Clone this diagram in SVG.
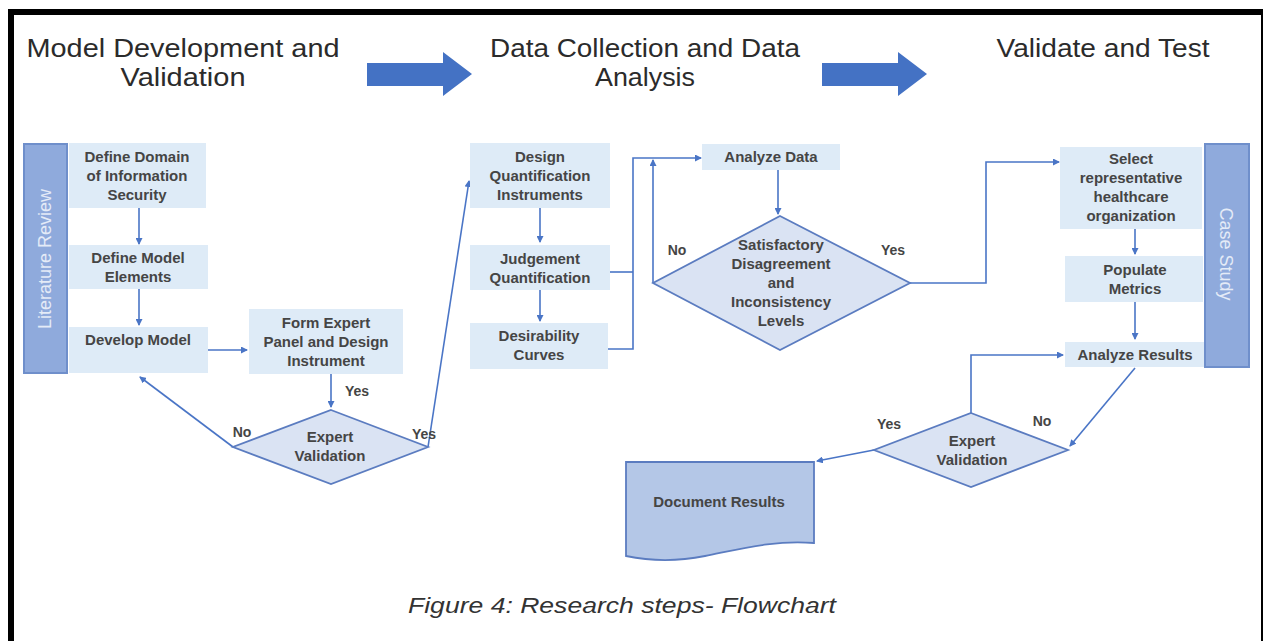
<svg xmlns="http://www.w3.org/2000/svg" width="1263" height="641" viewBox="0 0 1263 641">
<defs>
<style>
.hdr{font-family:"Liberation Sans",Arial,sans-serif;font-size:25px;fill:#2b2b2b;text-anchor:middle}
.t{font-family:"Liberation Sans",Arial,sans-serif;font-size:15px;font-weight:bold;fill:#454545;text-anchor:middle}
.lbl{font-family:"Liberation Sans",Arial,sans-serif;font-size:14px;font-weight:bold;fill:#454545;text-anchor:middle}
.bar{fill:#8FAADC;stroke:#6F8FCB;stroke-width:2}
.bart{font-family:"Liberation Sans",Arial,sans-serif;font-size:18px;fill:#E4EBF7;text-anchor:middle}
.box{fill:#DEEBF7}
.dia{fill:#DAE3F3;stroke:#5B7CC0;stroke-width:1.8}
.doc{fill:#B4C7E7;stroke:#5B7CC0;stroke-width:1.8}
.c{fill:none;stroke:#4A75C6;stroke-width:1.6}
.big{fill:#4472C4}
.cap{font-family:"Liberation Sans",Arial,sans-serif;font-size:22px;font-style:italic;fill:#333;text-anchor:middle}
</style>
<marker id="ah" markerUnits="userSpaceOnUse" markerWidth="7" markerHeight="7" refX="6" refY="3.5" orient="auto">
<path d="M0,0 L7,3.5 L0,7 z" fill="#4A75C6"/>
</marker>
</defs>
<rect width="1263" height="641" fill="#fff"/>
<!-- frame -->
<rect x="8" y="9" width="1255" height="6" fill="#000"/>
<rect x="8" y="9" width="6" height="632" fill="#000"/>
<rect x="1261" y="9" width="2" height="632" fill="#000"/>

<!-- headers -->
<g id="header1">
<text class="hdr" x="183" y="57" textLength="313" lengthAdjust="spacingAndGlyphs">Model Development and</text>
<text class="hdr" x="183" y="86" textLength="125" lengthAdjust="spacingAndGlyphs">Validation</text>
</g>
<g id="header2">
<text class="hdr" x="645" y="57" textLength="310" lengthAdjust="spacingAndGlyphs">Data Collection and Data</text>
<text class="hdr" x="645" y="86" textLength="100" lengthAdjust="spacingAndGlyphs">Analysis</text>
</g>
<g id="header3">
<text class="hdr" x="1103" y="57" textLength="213" lengthAdjust="spacingAndGlyphs">Validate and Test</text>
</g>
<g id="bigarrow1"><path class="big" d="M367,63 H443 V52 L472,74 L443,96 V86 H367 Z"/></g>
<g id="bigarrow2"><path class="big" d="M822,63 H898 V52 L927,74 L898,96 V86 H822 Z"/></g>

<!-- connectors -->
<g id="connectors">
<path class="c" d="M139,208 V244" marker-end="url(#ah)"/>
<path class="c" d="M139,288 V325" marker-end="url(#ah)"/>
<path class="c" d="M208,350 H247" marker-end="url(#ah)"/>
<path class="c" d="M331,374 V407" marker-end="url(#ah)"/>
<path class="c" d="M233,447 L140,377" marker-end="url(#ah)"/>
<path class="c" d="M428,447 L469,181" marker-end="url(#ah)"/>
<path class="c" d="M540,208 V242" marker-end="url(#ah)"/>
<path class="c" d="M540,290 V321" marker-end="url(#ah)"/>
<path class="c" d="M610,272 H633"/>
<path class="c" d="M608,349 H633 V158 H701" marker-end="url(#ah)"/>
<path class="c" d="M778,170 V214" marker-end="url(#ah)"/>
<path class="c" d="M653,283 V160" marker-end="url(#ah)"/>
<path class="c" d="M910,283 H986 V162 H1059" marker-end="url(#ah)"/>
<path class="c" d="M1135,229 V254" marker-end="url(#ah)"/>
<path class="c" d="M1135,302 V339" marker-end="url(#ah)"/>
<path class="c" d="M1135,368 L1070,446" marker-end="url(#ah)"/>
<path class="c" d="M971,413 V355 H1063" marker-end="url(#ah)"/>
<path class="c" d="M874,450 L817,461" marker-end="url(#ah)"/>
</g>

<!-- left column -->
<g id="literature-review">
<rect class="bar" x="24" y="144" width="43" height="229"/>
<text class="bart" transform="translate(51,259) rotate(-90)">Literature Review</text>
</g>
<g id="define-domain">
<rect class="box" x="69" y="143" width="137" height="65"/>
<text class="t" x="137" y="162">Define Domain</text>
<text class="t" x="137" y="181">of Information</text>
<text class="t" x="137" y="200">Security</text>
</g>
<g id="define-elements">
<rect class="box" x="69" y="245" width="139" height="44"/>
<text class="t" x="138" y="263">Define Model</text>
<text class="t" x="138" y="282">Elements</text>
</g>
<g id="develop-model">
<rect class="box" x="69" y="327" width="139" height="46"/>
<text class="t" x="138" y="345">Develop Model</text>
</g>
<g id="form-expert">
<rect class="box" x="249" y="309" width="154" height="65"/>
<text class="t" x="326" y="328">Form Expert</text>
<text class="t" x="326" y="347">Panel and Design</text>
<text class="t" x="326" y="366">Instrument</text>
</g>
<g id="expert-validation-1">
<polygon class="dia" points="331,410 428,447 331,484 233,447"/>
<text class="t" x="330" y="442">Expert</text>
<text class="t" x="330" y="461">Validation</text>
</g>
<text class="lbl" x="357" y="396">Yes</text>
<text class="lbl" x="242" y="437">No</text>
<text class="lbl" x="424" y="439">Yes</text>

<!-- middle column -->
<g id="design-quant">
<rect class="box" x="470" y="143" width="140" height="65"/>
<text class="t" x="540" y="162">Design</text>
<text class="t" x="540" y="181">Quantification</text>
<text class="t" x="540" y="200">Instruments</text>
</g>
<g id="judgement">
<rect class="box" x="470" y="245" width="140" height="45"/>
<text class="t" x="540" y="264">Judgement</text>
<text class="t" x="540" y="283">Quantification</text>
</g>
<g id="desirability">
<rect class="box" x="470" y="323" width="138" height="46"/>
<text class="t" x="539" y="341">Desirability</text>
<text class="t" x="539" y="360">Curves</text>
</g>
<g id="analyze-data">
<rect class="box" x="702" y="144" width="138" height="26"/>
<text class="t" x="771" y="162">Analyze Data</text>
</g>
<g id="satisfactory">
<polygon class="dia" points="780,216 910,283 780,350 653,283"/>
<text class="t" x="781" y="250">Satisfactory</text>
<text class="t" x="781" y="269">Disagreement</text>
<text class="t" x="781" y="288">and</text>
<text class="t" x="781" y="307">Inconsistency</text>
<text class="t" x="781" y="326">Levels</text>
</g>
<text class="lbl" x="677" y="255">No</text>
<text class="lbl" x="893" y="255">Yes</text>

<!-- right column -->
<g id="select-org">
<rect class="box" x="1060" y="147" width="142" height="82"/>
<text class="t" x="1131" y="164">Select</text>
<text class="t" x="1131" y="183">representative</text>
<text class="t" x="1131" y="202">healthcare</text>
<text class="t" x="1131" y="221">organization</text>
</g>
<g id="case-study">
<rect class="bar" x="1205" y="144" width="44" height="223"/>
<text class="bart" transform="translate(1220,254) rotate(90)">Case Study</text>
</g>
<g id="populate">
<rect class="box" x="1065" y="256" width="138" height="46"/>
<text class="t" x="1135" y="275">Populate</text>
<text class="t" x="1135" y="294">Metrics</text>
</g>
<g id="analyze-results">
<rect class="box" x="1065" y="342" width="139" height="25"/>
<text class="t" x="1135" y="360">Analyze Results</text>
</g>
<g id="expert-validation-2">
<polygon class="dia" points="971,413 1068,450 971,487 874,450"/>
<text class="t" x="972" y="446">Expert</text>
<text class="t" x="972" y="465">Validation</text>
</g>
<text class="lbl" x="889" y="429">Yes</text>
<text class="lbl" x="1042" y="426">No</text>
<g id="document-results">
<path class="doc" d="M626,462 H814 V543 C775,540 745,548 705,556 C675,562 650,561 626,556 Z"/>
<text class="t" x="719" y="507">Document Results</text>
</g>

<text class="cap" x="622" y="613" textLength="428" lengthAdjust="spacingAndGlyphs">Figure 4: Research steps- Flowchart</text>
</svg>
